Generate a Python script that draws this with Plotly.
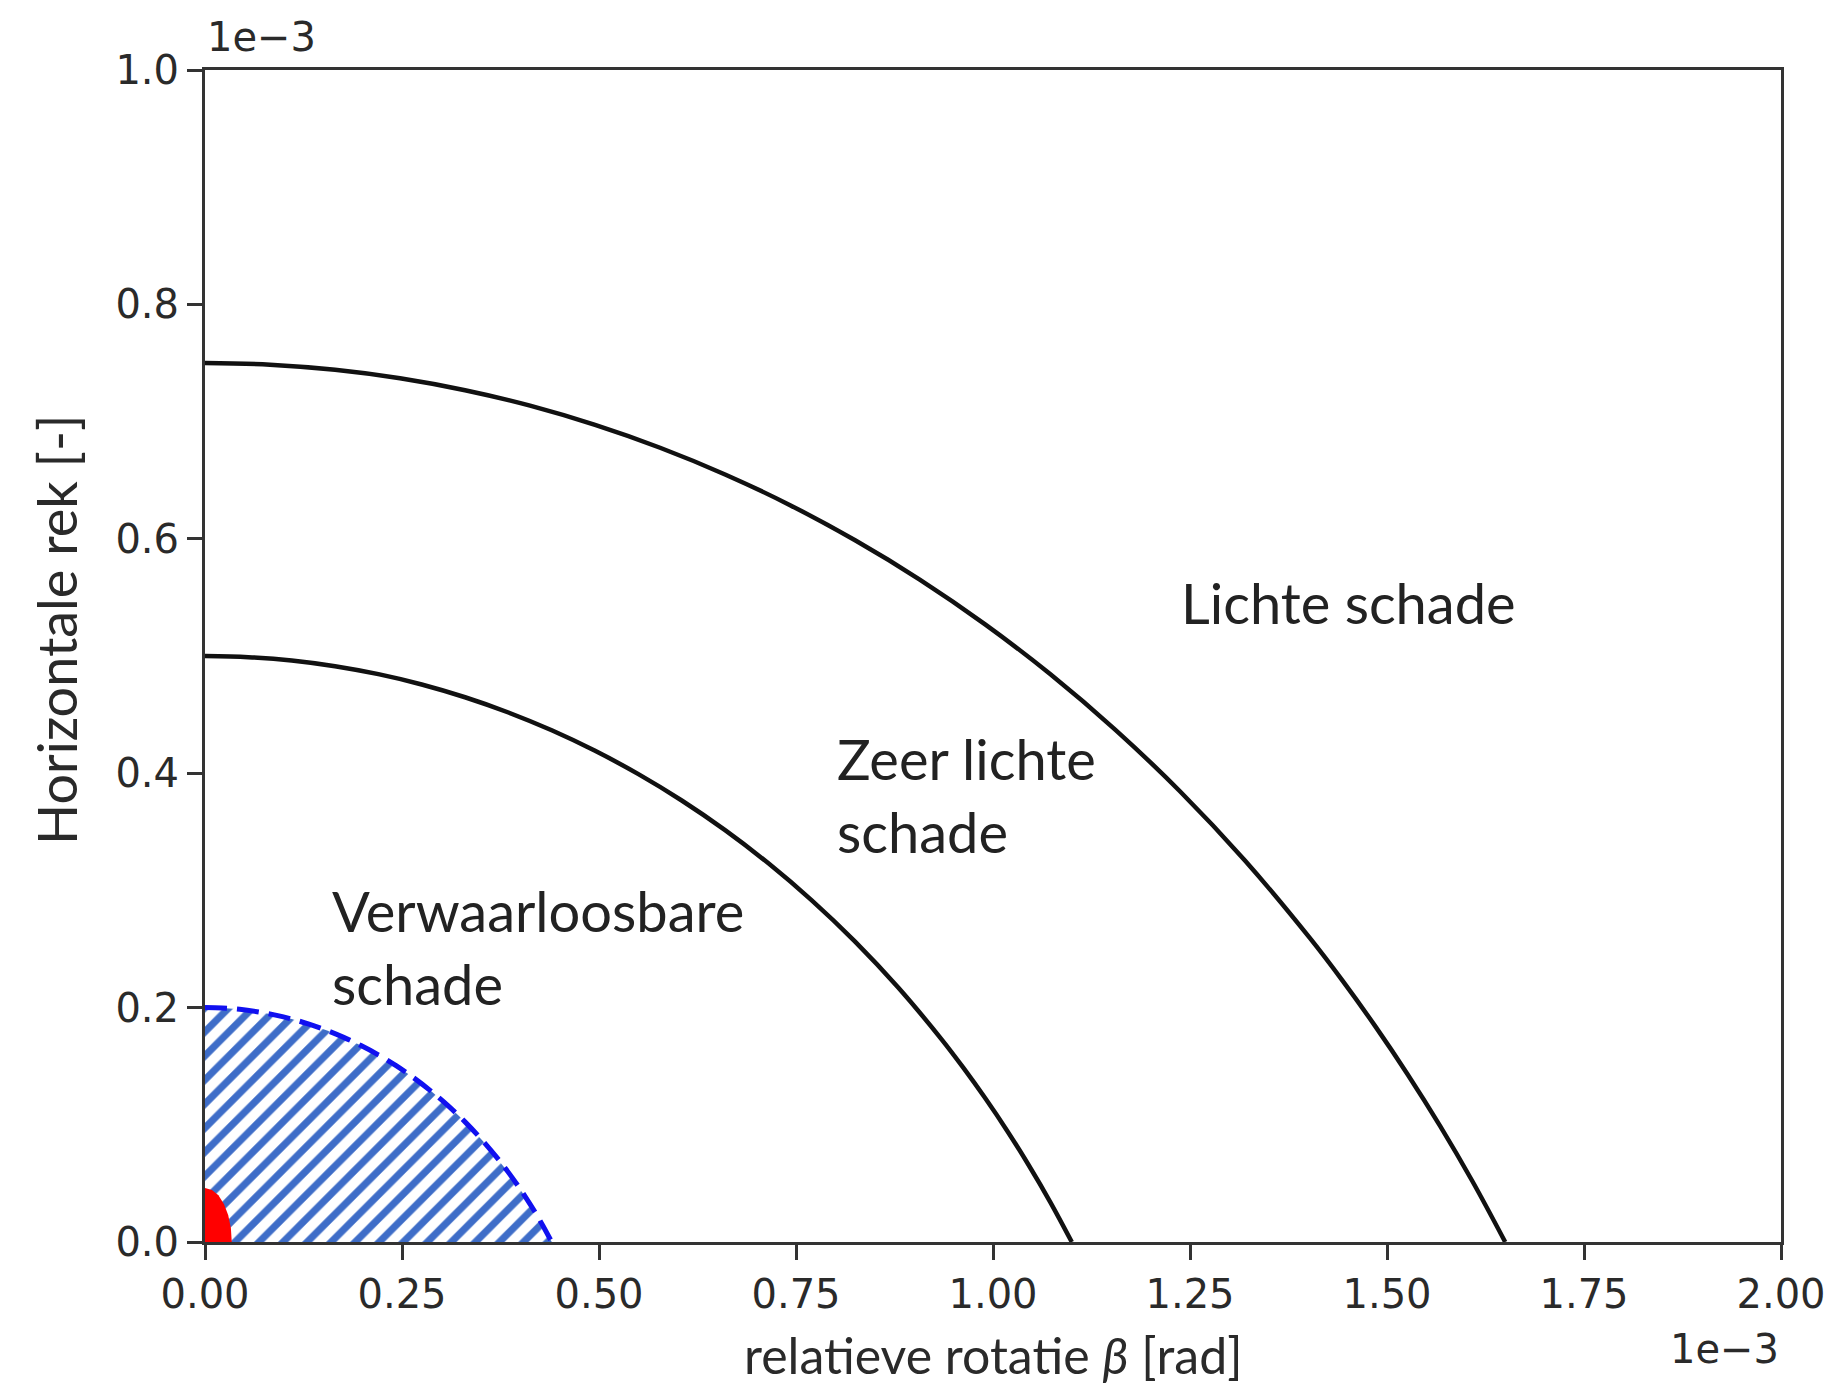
import plotly.graph_objects as go

# Values in units of 1e-3 (axis offset text "1e−3")
# Outer boundary: Zeer lichte / Lichte schade
outer_x = [0, 0.0825, 0.165, 0.2475, 0.33, 0.4125, 0.495, 0.5775, 0.66, 0.7425, 0.825, 0.9075,
           0.99, 1.0725, 1.155, 1.2375, 1.32, 1.4025, 1.44375, 1.485, 1.52625, 1.5675, 1.60875, 1.65]
outer_y = [0.75, 0.7486, 0.7442, 0.7370, 0.7268, 0.7136, 0.6972, 0.6777, 0.6549, 0.6287, 0.5987, 0.5650,
           0.5270, 0.4846, 0.4372, 0.3844, 0.3253, 0.2590, 0.2228, 0.1842, 0.1430, 0.0989, 0.0514, 0]
# Middle boundary: Verwaarloosbare / Zeer lichte schade
mid_x = [0, 0.055, 0.11, 0.165, 0.22, 0.275, 0.33, 0.385, 0.44, 0.495, 0.55, 0.605,
         0.66, 0.715, 0.77, 0.825, 0.88, 0.935, 0.9625, 0.99, 1.0175, 1.045, 1.0725, 1.1]
mid_y = [0.5, 0.4990, 0.4962, 0.4913, 0.4845, 0.4757, 0.4648, 0.4518, 0.4366, 0.4191, 0.3992, 0.3767,
         0.3514, 0.3231, 0.2915, 0.2563, 0.2169, 0.1727, 0.1485, 0.1228, 0.0954, 0.0659, 0.0343, 0]
# Inner dashed hatched region
inner_x = [0, 0.022, 0.044, 0.066, 0.088, 0.11, 0.132, 0.154, 0.176, 0.198, 0.22, 0.242,
           0.264, 0.286, 0.308, 0.33, 0.352, 0.374, 0.385, 0.396, 0.407, 0.418, 0.429, 0.44]
inner_y = [0.2, 0.1996, 0.1985, 0.1965, 0.1938, 0.1903, 0.1859, 0.1807, 0.1746, 0.1676, 0.1597, 0.1507,
           0.1405, 0.1292, 0.1166, 0.1025, 0.0867, 0.0691, 0.0594, 0.0491, 0.0381, 0.0264, 0.0137, 0]
# Red region
red_x = [0, 0.0088, 0.017, 0.024, 0.0294, 0.0328, 0.034]
red_y = [0.046, 0.0444, 0.0398, 0.0325, 0.023, 0.0119, 0]

x_ticks = [0, 0.25, 0.5, 0.75, 1.0, 1.25, 1.5, 1.75, 2.0]
y_ticks = [0, 0.2, 0.4, 0.6, 0.8, 1.0]

labels = ["Lichte schade", "Zeer lichte<br>schade", "Verwaarloosbare<br>schade"]
label_x = [1.236, 0.800, 0.159]
label_y = [0.546, 0.381, 0.252]

W, H = 1839, 1384
L, R, T, B = 205, 58, 70, 142

fig = go.Figure()

# hatched region
fig.add_trace(go.Scatter(
    x=inner_x + [0], y=inner_y + [0], mode="lines", fill="toself",
    line=dict(width=0, color="rgba(0,0,0,0)"),
    fillcolor="rgba(0,0,0,0)",
    fillpattern=dict(shape="/", fgcolor="#3e6dc8", bgcolor="rgba(0,0,0,0)", size=17, solidity=0.42,
                     fgopacity=1),
    hoverinfo="skip", showlegend=False))

# red region
fig.add_trace(go.Scatter(
    x=red_x + [0], y=red_y + [0], mode="lines", fill="toself",
    line=dict(width=0, color="red"), fillcolor="red",
    hoverinfo="skip", showlegend=False))

# dashed blue boundary
fig.add_trace(go.Scatter(
    x=inner_x, y=inner_y, mode="lines",
    line=dict(color="#1010f0", width=5, dash="22px,10px", shape="spline", smoothing=1.0),
    hoverinfo="skip", showlegend=False))

# black boundaries
for xs, ys in [(mid_x, mid_y), (outer_x, outer_y)]:
    fig.add_trace(go.Scatter(
        x=xs, y=ys, mode="lines",
        line=dict(color="#111111", width=4.5, shape="spline", smoothing=1.0),
        hoverinfo="skip", showlegend=False))

tickfont = dict(family="DejaVu Sans", size=40, color="#2a2a2a")
axis_common = dict(showline=True, linecolor="#333333", linewidth=3, mirror=True,
                   ticks="outside", ticklen=15, tickwidth=3, tickcolor="#333333",
                   showgrid=False, zeroline=False, tickfont=tickfont, automargin=False)

fig.update_xaxes(range=[0, 2], tickvals=x_ticks, tickformat=".2f", **axis_common)
fig.update_yaxes(range=[0, 1], tickvals=y_ticks, tickformat=".1f", **axis_common)

annfont = dict(family="Lato", size=56, color="#222222")
for t, xv, yv in zip(labels, label_x, label_y):
    fig.add_annotation(x=xv, y=yv, xref="x", yref="y", text=t, showarrow=False,
                       xanchor="left", yanchor="middle", align="left", font=annfont)

# axis titles
fig.add_annotation(x=0.5, y=(1242 - 1355) / 1172, xref="paper", yref="paper",
                   text="relatieve rotatie <i>β</i> [rad]", showarrow=False,
                   xanchor="center", yanchor="middle",
                   font=dict(family="Lato", size=50, color="#2a2a2a"))
fig.add_annotation(x=(56 - 205) / 1576, y=(1242 - 630) / 1172, xref="paper", yref="paper",
                   text="Horizontale rek [-]", showarrow=False, textangle=-90,
                   xanchor="center", yanchor="middle",
                   font=dict(family="Lato", size=54, color="#2a2a2a"))

# offset texts
fig.add_annotation(x=0, y=1, xref="paper", yref="paper", text="1e−3", showarrow=False,
                   xanchor="left", yanchor="bottom", yshift=8, font=tickfont)
fig.add_annotation(x=1, y=(1242 - 1349) / 1172, xref="paper", yref="paper", text="1e−3",
                   showarrow=False, xanchor="right", yanchor="middle", font=tickfont)

fig.update_layout(width=W, height=H, margin=dict(l=L, r=R, t=T, b=B),
                  paper_bgcolor="white", plot_bgcolor="white", showlegend=False)

fig.write_html("out.html")
